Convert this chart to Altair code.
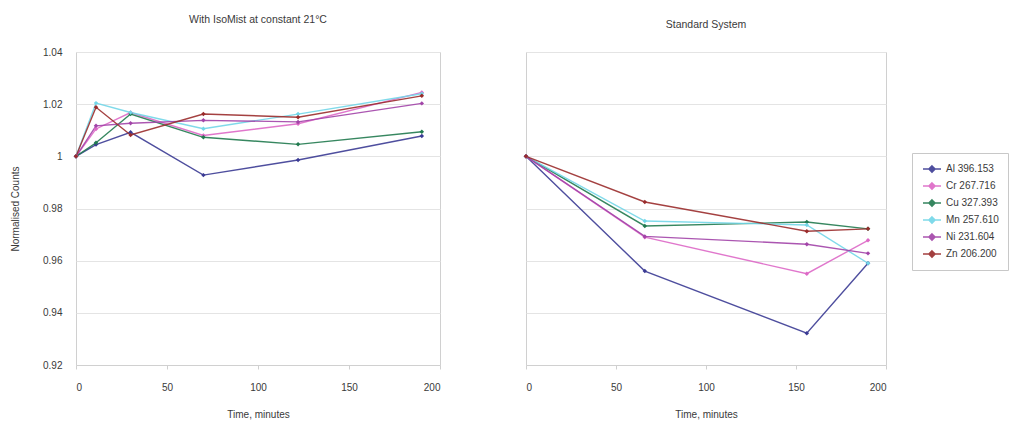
import altair as alt
import pandas as pd

elements = ["Al 396.153", "Cr 267.716", "Cu 327.393", "Mn 257.610", "Ni 231.604", "Zn 206.200"]
colors = ["#3b3b94", "#dd68c6", "#217a4f", "#72d6e8", "#a244a8", "#9a2c2c"]

# Panel 1: With IsoMist at constant 21°C
t_iso = [0, 11, 30, 70, 122, 190]
iso_al = [1.000, 1.0045, 1.0092, 0.9928, 0.9986, 1.0078]
iso_cr = [1.000, 1.0105, 1.0168, 1.0080, 1.0125, 1.0245]
iso_cu = [1.000, 1.0052, 1.0162, 1.0073, 1.0046, 1.0094]
iso_mn = [1.000, 1.0204, 1.0168, 1.0106, 1.0162, 1.0240]
iso_ni = [1.000, 1.0117, 1.0127, 1.0138, 1.0132, 1.0203]
iso_zn = [1.000, 1.0188, 1.0082, 1.0162, 1.0150, 1.0232]

# Panel 2: Standard System
t_std = [0, 66, 156, 190]
std_al = [1.000, 0.9560, 0.9322, 0.9590]
std_cr = [1.000, 0.9690, 0.9550, 0.9678]
std_cu = [1.000, 0.9733, 0.9748, 0.9722]
std_mn = [1.000, 0.9752, 0.9737, 0.9590]
std_ni = [1.000, 0.9693, 0.9663, 0.9628]
std_zn = [1.000, 0.9825, 0.9713, 0.9722]

title_iso = "With IsoMist at constant 21°C"
title_std = "Standard System"


def build(times, series):
    rows = []
    for name, vals in zip(elements, series):
        for t, v in zip(times, vals):
            rows.append({"Element": name, "Time": t, "Value": v})
    return pd.DataFrame(rows)


df_iso = build(t_iso, [iso_al, iso_cr, iso_cu, iso_mn, iso_ni, iso_zn])
df_std = build(t_std, [std_al, std_cr, std_cu, std_mn, std_ni, std_zn])

FONT = "Liberation Sans"
TXT = "#3a3a3a"

color_scale = alt.Scale(domain=elements, range=colors)
legend_path = "M-1.5,0L1.5,0M0,-0.5L0.5,0L0,0.5L-0.5,0Z"


def panel(df, title, show_y, show_legend):
    x = alt.X("Time:Q", scale=alt.Scale(domain=[0, 200], nice=False),
              axis=alt.Axis(values=[0, 50, 100, 150, 200], title="Time, minutes",
                            grid=False, domain=True, domainColor="#d0d0d0",
                            ticks=True, tickSize=4, tickColor="#d0d0d0",
                            labelPadding=13, titlePadding=17))
    if show_y:
        yaxis = alt.Axis(values=[0.92, 0.94, 0.96, 0.98, 1.0, 1.02, 1.04], format="~g",
                         title="Normalised Counts", grid=True, gridColor="#e4e4e4",
                         domain=False, ticks=False, labelPadding=14, titlePadding=22)
    else:
        yaxis = alt.Axis(values=[0.92, 0.94, 0.96, 0.98, 1.0, 1.02, 1.04], labels=False,
                         title=None, grid=True, gridColor="#e4e4e4",
                         domain=False, ticks=False)
    y = alt.Y("Value:Q", scale=alt.Scale(domain=[0.92, 1.04], nice=False, zero=False), axis=yaxis)
    if show_legend:
        col = alt.Color("Element:N", scale=color_scale, title=None,
                        legend=alt.Legend(orient="none", legendX=386, legendY=101,
                                          symbolType=legend_path, symbolSize=144,
                                          symbolStrokeWidth=1.6, rowPadding=3,
                                          symbolOffset=4, labelOffset=7,
                                          labelFontSize=10, labelFont=FONT, labelColor=TXT,
                                          strokeColor="#c8c8c8", fillColor="white",
                                          padding=9))
    else:
        col = alt.Color("Element:N", scale=color_scale, legend=None)
    base = alt.Chart(df).encode(x=x, y=y)
    lines = base.mark_line(strokeWidth=1.4, opacity=0.9).encode(color=col)
    pts = base.mark_point(shape="diamond", filled=True, size=20, opacity=1).encode(
        color=alt.Color("Element:N", scale=color_scale, legend=None))
    return alt.layer(lines, pts).properties(
        width=364 if show_y else 360, height=313,
        title=alt.TitleParams(title, fontSize=10.5, font=FONT, color=TXT,
                              fontWeight="normal", offset=22))


left = panel(df_iso, title_iso, True, False)
right = panel(df_std, title_std, False, True)

chart = alt.hconcat(left, right, spacing=81).resolve_legend(
    color="independent"
).configure_view(
    stroke="#d0d0d0", strokeWidth=1
).configure_axis(
    labelFont=FONT, titleFont=FONT, labelFontSize=10, titleFontSize=10,
    labelColor=TXT, titleColor=TXT, titleFontWeight="normal"
).properties(padding={"left": 2, "top": 6, "right": 0, "bottom": 0})

chart.save("out.html", embed_options={"renderer": "svg", "actions": False})
